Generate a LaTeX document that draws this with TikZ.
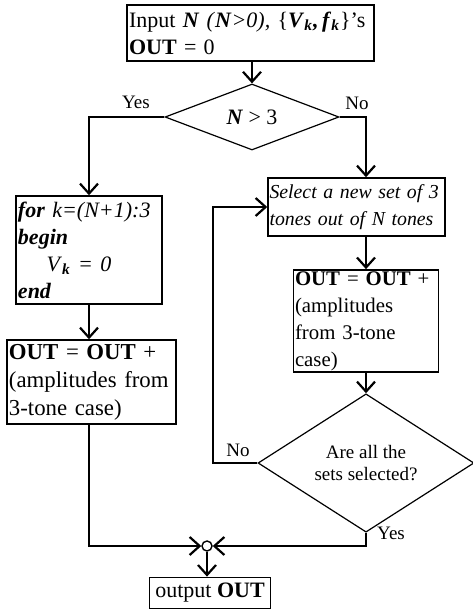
\documentclass[tikz,border=0pt]{standalone}
\usepackage{fontspec}
\setmainfont{Liberation Serif}
\usetikzlibrary{%
        arrows.meta,
        shapes.geometric
    }
\tikzset{%
    flowbox/.style={%
        draw, line width=0.75pt, rectangle, align=left, inner sep=1pt,
        font=\fontsize{11}{13.5}\selectfont
    },
    decision/.style={%
        draw, line width=0.6pt, diamond, align=center, inner sep=0pt
    },
    answer/.style={font=\fontsize{9.5}{11}\selectfont},
    flowline/.style={line width=1.1pt},
    joint/.style={draw, circle, line width=0.7pt, minimum size=5pt, inner sep=0pt}
}
\newcommand{\bitvar}[1]{\textbf{\textit{#1}}}

\begin{document}
\begin{tikzpicture}[x=0.5pt, y=-0.5pt, >={Straight Barb[length=5pt, width=9pt]}]

    \useasboundingbox (0, 0) rectangle (472, 615);

    % Input
    \node[flowbox, text width=121.5pt, minimum height=28pt] (input) at (250.5, 33)
        {Input \bitvar{N} \textit{(}\bitvar{N}\textit{>0),}
         \{\bitvar{V}\textsubscript{\bitvar{k}}\bitvar{,}\,\bitvar{f}\textsubscript{\bitvar{k}}\}'s\\
         \textbf{OUT} = 0};

    \node[decision, minimum width=87pt, minimum height=33pt,
          font=\fontsize{11}{13}\selectfont] (test) at (252, 117)
        {\bitvar{N} > 3};

    \node[answer] (yes-test) at (136, 102) {Yes};
    \node[answer] (no-test) at (357, 103) {No};


    %%% Yes: fewer than four tones
    \node[flowbox, text width=71pt, minimum height=54pt] (zeroing) at (89, 250)
        {\bitvar{for} \textit{k=(N+1):3}\\
         \bitvar{begin}\\
         \hspace*{1.3em}\textit{V}\textsubscript{\bitvar{k}} \textit{= 0}\\
         \bitvar{end}};

    \node[flowbox, text width=82.5pt, minimum height=42pt,
          font=\fontsize{11.4}{14}\selectfont] (accleft) at (91.5, 382)
        {\textbf{OUT} = \textbf{OUT} +\\
         (amplitudes from\\
         3-tone case)};


    %%% No: loop over the sets of three tones
    \node[flowbox, text width=87pt, minimum height=29pt, inner sep=0.75pt,
          font=\fontsize{9.9}{13.5}\selectfont\itshape] (select) at (356.5, 207)
        {Select a new set of 3\\
         tones out of N tones};

    \node[flowbox, text width=71pt, minimum height=51pt, inner sep=0.75pt,
          font=\fontsize{10.4}{13.5}\selectfont] (accright) at (366, 321)
        {\textbf{OUT} = \textbf{OUT} +\\
         (amplitudes\\
         from 3-tone\\
         case)};

    \node[decision, minimum width=108pt, minimum height=44pt, answer] (check) at (366, 463)
        {Are all the\\sets selected?};

    \node[answer] (no-check) at (238, 450) {No};
    \node[answer] (yes-check) at (391, 533) {Yes};

    \coordinate (back) at (213, 207);


    %%% Merge and output
    \node[joint] (merge) at (207, 546) {};

    \node[flowbox, inner sep=3pt, minimum height=15pt] (result) at (210, 593)
        {output \textbf{OUT}};


    % Connectors
    \draw[->, flowline] (test.north |- input.south) -- (test.north);
    \draw[->, flowline] (test.west) -| (zeroing.north);
    \draw[->, flowline] (test.east) -| (select.north -| check.north);
    \draw[->, flowline] (zeroing.south) -- (zeroing.south |- accleft.north);
    \draw[->, flowline] (select.south -| accright.north) -- (accright.north);
    \draw[->, flowline] (accright.south) -- (check.north);
    \draw[->, flowline] (check.west) -| (back) -- (select.west);
    \draw[->, flowline] (zeroing.south |- accleft.south) |- (merge.west);
    \draw[->, flowline] (check.south) |- (merge.east);
    \draw[->, flowline] (merge.south) -- (merge.south |- result.north);

\end{tikzpicture}
\end{document}
